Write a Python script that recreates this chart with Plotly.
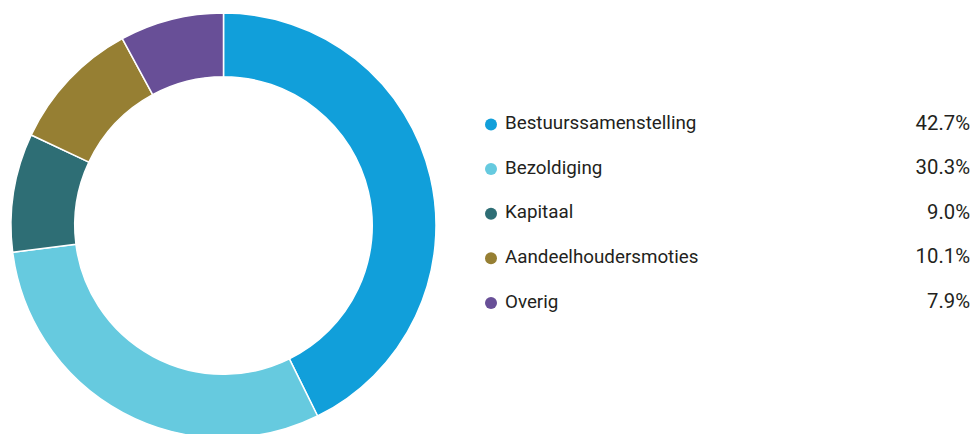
import plotly.graph_objects as go

categories = ["Bestuurssamenstelling", "Bezoldiging", "Kapitaal", "Aandeelhoudersmoties", "Overig"]
values = [42.7, 30.3, 9.0, 10.1, 7.9]
pct_labels = ["42.7%", "30.3%", "9.0%", "10.1%", "7.9%"]
colors = ["#119FDA", "#66CADF", "#2E6E75", "#967F33", "#684F97"]

W, H = 974, 443
row0, row_step = 124.5, 44.6
idx = list(range(len(categories)))
FONT = "Roboto, Liberation Sans, Arial, sans-serif"

fig = go.Figure()
fig.add_trace(go.Pie(
    values=values, labels=categories, sort=False, direction="clockwise", rotation=0,
    hole=0.70, marker=dict(colors=colors, line=dict(color="white", width=1.5)),
    textinfo="none", hoverinfo="label+percent", showlegend=False,
    domain=dict(x=[11 / W, 436 / W], y=[5 / H, 430 / H]),
))
# legend dots
fig.add_trace(go.Scatter(
    x=[491] * len(categories), y=idx, mode="markers",
    marker=dict(color=colors, size=12),
    showlegend=False, hoverinfo="skip", cliponaxis=False,
))
# legend labels
fig.add_trace(go.Scatter(
    x=[505] * len(categories), y=idx, mode="text",
    text=categories, textposition="middle right",
    textfont=dict(family=FONT, size=18.8, color="#231F20"),
    showlegend=False, hoverinfo="skip", cliponaxis=False,
))
# percentages
fig.add_trace(go.Scatter(
    x=[970] * len(categories), y=idx, mode="text",
    text=pct_labels, textposition="middle left",
    textfont=dict(family=FONT, size=20.3, color="#231F20"),
    showlegend=False, hoverinfo="skip", cliponaxis=False,
))
fig.update_layout(
    width=W, height=H, margin=dict(l=0, r=0, t=0, b=0),
    paper_bgcolor="white", plot_bgcolor="rgba(0,0,0,0)",
    xaxis=dict(range=[0, W], visible=False, domain=[0, 1], fixedrange=True),
    yaxis=dict(range=[(H - row0) / row_step, -row0 / row_step], visible=False, domain=[0, 1], fixedrange=True),
)
fig.write_html("out.html", config={"displayModeBar": False},
               post_script="document.body.style.margin='0';document.body.style.overflow='hidden';")
